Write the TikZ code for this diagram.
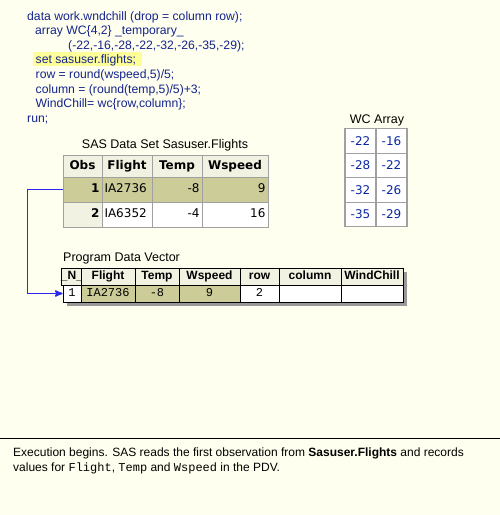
\documentclass[tikz,border=0pt]{standalone}
\usepackage{fontspec}
\setmainfont{Liberation Sans}
\newfontfamily\tabfont{DejaVu Sans}
\newfontfamily\pdvmono{Liberation Mono}
\usepackage{xcolor}
\usetikzlibrary{arrows}

\definecolor{paper}{RGB}{255,255,240}
\definecolor{codeblue}{RGB}{20,36,140}
\definecolor{hilite}{RGB}{255,255,153}
\definecolor{wcblue}{RGB}{10,40,160}
\definecolor{flowblue}{rgb}{0.16,0.16,0.94}
\definecolor{tabline}{RGB}{160,160,160}
\definecolor{headfill}{RGB}{242,242,226}
\definecolor{olive}{RGB}{204,204,153}

\begin{document}
\begin{tikzpicture}[x=1pt,y=-1pt,>=stealth',
		codeline/.style={anchor=base west,inner sep=0pt,text=codeblue,font=\fontsize{12.2}{14}\selectfont},
		caption/.style={inner sep=0pt,font=\fontsize{12.5}{14}\selectfont},
		dcell/.style={draw=tabline,line width=0.8pt,inner sep=0pt,text height=8.5pt,text depth=2.5pt,font=\tabfont\fontsize{12}{14}\selectfont},
		wcell/.style={draw=tabline,line width=1.2pt,fill=white,inner sep=0pt,minimum width=31,minimum height=24.5,text=wcblue,font=\tabfont\fontsize{12}{14}\selectfont},
		pcell/.style={draw=black,line width=0.9pt,inner sep=0pt,minimum height=17,text height=8.5pt,text depth=2.5pt},
		phead/.style={pcell,fill=headfill,font=\bfseries\fontsize{12}{14}\selectfont},
		pval/.style={pcell,font=\pdvmono\fontsize{12}{14}\selectfont},
		flow/.style={->,flowblue,line width=1.6pt,line cap=butt}]

			% Background
			\fill[paper] (0,0) rectangle (500,515);
			\useasboundingbox (0,0) rectangle (500,515);

			% Program code
			\fill[hilite] (33,52) rectangle (142,66);
			\node[codeline] (c1) at (27,20) {data work.wndchill (drop = column row);};
			\node[codeline] (c2) at (35,34.6) {array WC\{4,2\} \_temporary\_};
			\node[codeline] (c3) at (68,49.2) {(-22,-16,-28,-22,-32,-26,-35,-29);};
			\node[codeline] (c4) at (35.5,63.8) {set sasuser.flights;};
			\node[codeline] (c5) at (35.5,78.4) {row = round(wspeed,5)/5;};
			\node[codeline] (c6) at (35.5,93) {column = (round(temp,5)/5)+3;};
			\node[codeline] (c7) at (35.5,107.6) {WindChill= wc\{row,column\};};
			\node[codeline] (c8) at (27,122.2) {run;};

			% WC array
			\node[caption] (wctitle) at (377,120) {WC Array};
			\node[wcell] (w11) at (360.5,141) {-22};
			\node[wcell] (w12) at (391.5,141) {-16};
			\node[wcell] (w21) at (360.5,165.5) {-28};
			\node[wcell] (w22) at (391.5,165.5) {-22};
			\node[wcell] (w31) at (360.5,190) {-32};
			\node[wcell] (w32) at (391.5,190) {-26};
			\node[wcell] (w41) at (360.5,214.5) {-35};
			\node[wcell] (w42) at (391.5,214.5) {-29};

			% SAS data set
			\node[caption] (dstitle) at (165,145) {SAS Data Set Sasuser.Flights};
			\node[dcell,fill=headfill,minimum width=39,minimum height=22,font=\tabfont\bfseries\fontsize{12}{14}\selectfont] (obsh) at (82.5,166) {Obs};
			\node[dcell,fill=headfill,minimum width=50,minimum height=22,font=\tabfont\bfseries\fontsize{12}{14}\selectfont] (flh) at (127,166) {Flight};
			\node[dcell,fill=headfill,minimum width=50,minimum height=22,font=\tabfont\bfseries\fontsize{12}{14}\selectfont] (tmh) at (177,166) {Temp};
			\node[dcell,fill=headfill,minimum width=66,minimum height=22,font=\tabfont\bfseries\fontsize{12}{14}\selectfont] (wsh) at (235,166) {Wspeed};

			\node[dcell,fill=olive,minimum width=39,minimum height=25,text width=34,align=right,font=\tabfont\bfseries\fontsize{12}{14}\selectfont] (obs1) at (82.5,189.5) {1};
			\node[dcell,fill=olive,minimum width=50,minimum height=25,text width=45,align=left] (fl1) at (127,189.5) {IA2736};
			\node[dcell,fill=olive,minimum width=50,minimum height=25,text width=45,align=right] (tm1) at (177,189.5) {-8};
			\node[dcell,fill=olive,minimum width=66,minimum height=25,text width=61,align=right] (ws1) at (235,189.5) {9};

			\node[dcell,fill=headfill,minimum width=39,minimum height=25,text width=34,align=right,font=\tabfont\bfseries\fontsize{12}{14}\selectfont] (obs2) at (82.5,214.5) {2};
			\node[dcell,fill=white,minimum width=50,minimum height=25,text width=45,align=left] (fl2) at (127,214.5) {IA6352};
			\node[dcell,fill=white,minimum width=50,minimum height=25,text width=45,align=right] (tm2) at (177,214.5) {-4};
			\node[dcell,fill=white,minimum width=66,minimum height=25,text width=61,align=right] (ws2) at (235,214.5) {16};

			% Program data vector
			\node[caption,anchor=west] (pdvtitle) at (63,258) {Program Data Vector};
			\fill[black!40] (67,272) rectangle (407,306);
			\node[phead,minimum width=18] (pnh) at (72,276.5) {\_N\_};
			\node[phead,minimum width=54] (pflh) at (108,276.5) {Flight};
			\node[phead,minimum width=44] (ptmh) at (157,276.5) {Temp};
			\node[phead,minimum width=61] (pwsh) at (209.5,276.5) {Wspeed};
			\node[phead,minimum width=39] (prwh) at (259.5,276.5) {row};
			\node[phead,minimum width=62] (pclh) at (310,276.5) {column};
			\node[phead,minimum width=62] (pwch) at (372,276.5) {WindChill};

			\node[pval,fill=white,minimum width=18] (pn1) at (72,293.5) {1};
			\node[pval,fill=olive,minimum width=54] (pfl1) at (108,293.5) {IA2736};
			\node[pval,fill=olive,minimum width=44] (ptm1) at (157,293.5) {-8};
			\node[pval,fill=olive,minimum width=61] (pws1) at (209.5,293.5) {9};
			\node[pval,fill=white,minimum width=39] (prw1) at (259.5,293.5) {2};
			\node[pval,fill=white,minimum width=62] (pcl1) at (310,293.5) {};
			\node[pval,fill=white,minimum width=62] (pwc1) at (372,293.5) {};

			% Note
			\draw[line width=1pt] (0,438) -- (500,438);
			\node[anchor=base west,inner sep=0pt,font=\fontsize{12}{14}\selectfont] (note1) at (13,456.5)
				{Execution begins. SAS reads the first observation from \textbf{Sasuser.Flights} and records};
			\node[anchor=base west,inner sep=0pt,font=\fontsize{12}{14}\selectfont] (note2) at (13,471)
				{values for {\pdvmono Flight}, {\pdvmono Temp} and {\pdvmono Wspeed} in the PDV.};

			% Read arrow
			\draw[flow] (obs1.west) -- ++(-35,0) |- (pn1.west);

		\end{tikzpicture}
\end{document}
